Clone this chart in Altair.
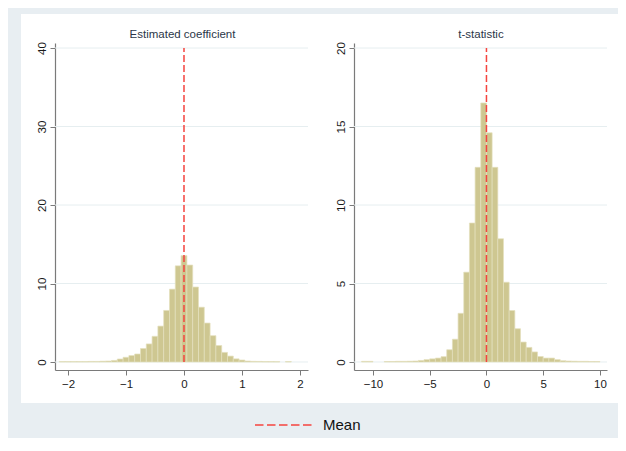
import altair as alt
import pandas as pd

# ---------------- data ----------------
# Panel 1: estimated coefficient, bins of width 0.1 (centres)
coef_centers = [-2.1, -2.0, -1.9, -1.8, -1.7, -1.6, -1.5, -1.4, -1.3, -1.2,
                -1.1, -1.0, -0.9, -0.8, -0.7, -0.6, -0.5, -0.4, -0.3, -0.2,
                -0.1, 0.0, 0.1, 0.2, 0.3, 0.4, 0.5, 0.6, 0.7, 0.8,
                0.9, 1.0, 1.1, 1.2, 1.3, 1.4, 1.5, 1.6, 1.8]
coef_density = [0.05, 0.05, 0.05, 0.05, 0.05, 0.07, 0.07, 0.1, 0.12, 0.2,
                0.38, 0.6, 0.82, 1.02, 1.72, 2.3, 3.27, 4.57, 6.57, 9.28,
                12.25, 13.55, 12.35, 9.55, 6.98, 4.96, 3.35, 2.1, 1.22, 0.75,
                0.4, 0.25, 0.12, 0.08, 0.07, 0.05, 0.05, 0.04, 0.05]
coef_bin_width = 0.1
coef_mean = 0.0

# Panel 2: t-statistic, bins of width 0.5 (left edges)
t_edges = [-11.0, -10.5, -9.0, -8.5, -8.0, -7.5, -7.0, -6.5, -6.0, -5.5,
           -5.0, -4.5, -4.0, -3.5, -3.0, -2.5, -2.0, -1.5, -1.0, -0.5,
           0.0, 0.5, 1.0, 1.5, 2.0, 2.5, 3.0, 3.5, 4.0, 4.5,
           5.0, 5.5, 6.0, 6.5, 7.0, 7.5, 8.0, 8.5, 9.0, 9.5]
t_density = [0.04, 0.04, 0.03, 0.03, 0.04, 0.04, 0.05, 0.06, 0.1, 0.15,
             0.2, 0.25, 0.34, 0.78, 1.45, 3.1, 5.72, 8.85, 12.4, 16.5,
             14.6, 12.4, 7.85, 5.08, 3.28, 2.12, 1.27, 0.93, 0.64, 0.35,
             0.25, 0.25, 0.15, 0.08, 0.06, 0.05, 0.04, 0.04, 0.03, 0.03]
t_bin_width = 0.5
t_mean = 0.0

coef_xticks = [-2, -1, 0, 1, 2]
coef_yticks = [0, 10, 20, 30, 40]
t_xticks = [-10, -5, 0, 5, 10]
t_yticks = [0, 5, 10, 15, 20]

# axis extents (data units of the plot region)
coef_xdomain = [-2.224, 2.138]
coef_ydomain = [-1.02, 40.64]
t_xdomain = [-11.67, 10.62]
t_ydomain = [-0.51, 20.32]

titles = ["Estimated coefficient", "t-statistic"]
legend_label = "Mean"

# ---------------- style ----------------
FONT = "Liberation Sans"
BAR_FILL = "#cec791"
BAR_STROKE = "#e4e0bd"
MEAN_RED = "#f5443f"
GRID = "#e6eef0"
AXIS = "#7a7a7a"
PANEL_H = 389
XR = [34, 287]
YR = [356, 29]


def panel(lo, hi, dens, xticks, yticks, xdom, ydom, mean, title, pw):
    bars = pd.DataFrame({"lo": lo, "hi": hi, "d": dens, "base": [0] * len(dens)})
    grid = pd.DataFrame({"y": yticks, "x1": [xdom[0]] * len(yticks),
                         "x2": [xdom[1]] * len(yticks)})
    mline = pd.DataFrame({"x": [mean], "y1": [yticks[0]], "y2": [yticks[-1]],
                          "lab": [legend_label]})

    xs = alt.Scale(domain=xdom, range=XR, nice=False, zero=False, padding=0)
    ys = alt.Scale(domain=ydom, range=YR, nice=False, zero=False, padding=0)

    xaxis = alt.Axis(values=xticks, grid=False, offset=-33, title=None, format="d",
                     labelFont=FONT, labelFontSize=11.5, labelColor="#1a1a1a",
                     labelPadding=3, tickSize=5, tickColor=AXIS, domainColor=AXIS,
                     domainWidth=1.2, labelFlush=False, labelOverlap=False)
    yaxis = alt.Axis(values=yticks, grid=False, offset=-34, title=None, format="d",
                     labelFont=FONT, labelFontSize=11.5, labelColor="#1a1a1a",
                     labelAngle=270, labelAlign="center", labelBaseline="bottom",
                     labelPadding=3, tickSize=5, tickColor=AXIS, domainColor=AXIS,
                     domainWidth=1.2, labelFlush=False, labelOverlap=False)

    g = alt.Chart(grid).mark_rule(color=GRID, strokeWidth=1).encode(
        x=alt.X("x1:Q", scale=xs, axis=xaxis),
        x2="x2:Q",
        y=alt.Y("y:Q", scale=ys, axis=yaxis),
    )
    b = alt.Chart(bars).mark_bar(fill=BAR_FILL, stroke=BAR_STROKE,
                                 strokeWidth=0.7, orient="vertical").encode(
        x=alt.X("lo:Q", scale=xs),
        x2="hi:Q",
        y=alt.Y("d:Q", scale=ys),
        y2="base:Q",
    )
    m = alt.Chart(mline).mark_rule(strokeDash=[7, 3], strokeWidth=1.5).encode(
        x=alt.X("x:Q", scale=xs),
        y=alt.Y("y1:Q", scale=ys),
        y2="y2:Q",
        color=alt.Color("lab:N",
                        scale=alt.Scale(domain=[legend_label], range=[MEAN_RED]),
                        legend=alt.Legend(title=None)),
    )
    return alt.layer(g, b, m).properties(
        width=pw, height=PANEL_H,
        title=alt.TitleParams(title, font=FONT, fontSize=11.5, fontWeight="normal",
                              color="#2b3648", anchor="middle", frame="group",
                              dx=12, offset=-32, baseline="middle"),
    )


left = panel([c - coef_bin_width / 2 for c in coef_centers],
             [c + coef_bin_width / 2 for c in coef_centers],
             coef_density, coef_xticks, coef_yticks, coef_xdomain, coef_ydomain,
             coef_mean, titles[0], 299)
right = panel(t_edges, [e + t_bin_width for e in t_edges], t_density,
              t_xticks, t_yticks, t_xdomain, t_ydomain, t_mean, titles[1], 298)

chart = alt.hconcat(left, right, spacing=0).properties(
    padding={"left": 13, "top": 6, "right": 0, "bottom": 5},
    background="#e8eef2",
).configure_view(
    fill="white", strokeWidth=0
).configure_legend(
    orient="none", legendX=233, legendY=403, clipHeight=16,
    symbolType="stroke", symbolDash=[8.5, 3.5], symbolStrokeWidth=1.5,
    symbolSize=3481, labelFont=FONT, labelFontSize=15, labelColor="#111111",
    labelOffset=8,
).configure_concat(spacing=0)

chart.save("out.html", embed_options={"renderer": "svg", "actions": False})
